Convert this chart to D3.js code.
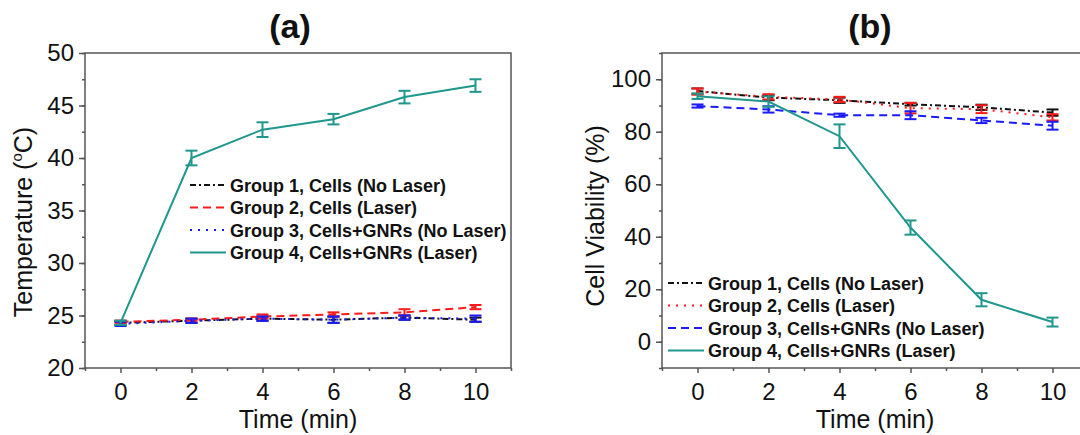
<!DOCTYPE html>
<html>
<head>
<meta charset="utf-8">
<script src="https://cdn.jsdelivr.net/npm/d3@7"></script>
<style>
  body { margin: 0; background: #fff; }
  svg { display: block; font-family: Arial, "Liberation Sans", sans-serif; }
</style>
</head>
<body>
<div id="vizContainer"></div>
<script>
// time points (min)
var times = [0, 2, 4, 6, 8, 10];
var groupNames = [
  'Group 1, Cells (No Laser)',
  'Group 2, Cells (Laser)',
  'Group 3, Cells+GNRs (No Laser)',
  'Group 4, Cells+GNRs (Laser)'
];

// panel (a) temperature (C)
var tempG1 = [24.3, 24.5, 24.7, 24.6, 24.8, 24.6];
var tempG2 = [24.4, 24.6, 24.9, 25.1, 25.3, 25.8];
var tempG3 = [24.2, 24.5, 24.7, 24.6, 24.8, 24.7];
var tempG4 = [24.3, 40.0, 42.7, 43.7, 45.8, 46.9];
var tempG1Err = [0.2, 0.2, 0.2, 0.3, 0.2, 0.2];
var tempG2Err = [0.1, 0.1, 0.2, 0.2, 0.3, 0.2];
var tempG3Err = [0.2, 0.2, 0.2, 0.3, 0.2, 0.3];
var tempG4Err = [0.2, 0.7, 0.7, 0.5, 0.6, 0.6];
var tempTicks = [20, 25, 30, 35, 40, 45, 50];

// panel (b) cell viability (%)
var viaG1 = [95.5, 93.0, 92.0, 90.5, 89.3, 87.3];
var viaG2 = [95.3, 93.3, 92.3, 89.0, 88.6, 85.5];
var viaG3 = [89.8, 88.5, 86.3, 86.3, 84.3, 82.3];
var viaG4 = [93.5, 91.5, 78.3, 43.5, 16.0, 7.5];
var viaG1Err = [1.0, 1.0, 1.0, 0.5, 1.0, 1.2];
var viaG2Err = [1.2, 1.0, 1.0, 2.0, 1.5, 1.2];
var viaG3Err = [0.6, 1.2, 0.6, 1.5, 1.0, 1.5];
var viaG4Err = [1.0, 2.0, 4.5, 2.7, 2.5, 1.7];
var viaTicks = [0, 20, 40, 60, 80, 100];

var timeTicks = [0, 2, 4, 6, 8, 10];

var teal = '#1f978c';

function initializeSvg(width, height){
  return d3.select('#vizContainer').append('svg')
    .attr('width', width)
    .attr('height', height)
    .attr('viewBox', '0 0 ' + width + ' ' + height);
}

// draws one framed panel with its series, error bars and legend
function drawPanel(svg, p){
  var x = d3.scaleLinear().domain([-1, 11]).range([p.left, p.right]);
  var y = d3.scaleLinear().domain(p.yDomain).range([368, 53]);
  var g = svg.append('g');

  // frame
  g.append('rect')
    .attr('x', p.left).attr('y', 53)
    .attr('width', p.right - p.left).attr('height', 315)
    .attr('fill', 'none').attr('stroke', '#555').attr('stroke-width', 1.5);

  // minor ticks
  var yMinor = g.append('g').attr('transform', 'translate(' + p.left + ',0)')
    .call(d3.axisLeft(y).tickValues(p.yMinor).tickSize(3).tickFormat(''));
  var xMinor = g.append('g').attr('transform', 'translate(0,368)')
    .call(d3.axisBottom(x).tickValues([-1, 1, 3, 5, 7, 9, 11]).tickSize(3).tickFormat(''));

  // major ticks
  var yAxis = g.append('g').attr('transform', 'translate(' + p.left + ',0)')
    .call(d3.axisLeft(y).tickValues(p.yTicks).tickSize(6).tickPadding(5));
  var xAxis = g.append('g').attr('transform', 'translate(0,368)')
    .call(d3.axisBottom(x).tickValues(timeTicks).tickSize(5).tickPadding(10));

  [yMinor, xMinor, yAxis, xAxis].forEach(function(a){
    a.select('.domain').remove();
    a.selectAll('line').attr('stroke', '#555').attr('stroke-width', 1.5);
    a.selectAll('text').attr('font-size', 24).attr('fill', '#111')
      .attr('font-family', 'Arial, "Liberation Sans", sans-serif');
  });

  // series
  var line = d3.line().x(function(d){ return x(d.t); }).y(function(d){ return y(d.v); });
  p.series.forEach(function(s){
    var pts = times.map(function(t, i){ return {t: t, v: s.values[i], e: s.errors[i]}; });
    var sg = g.append('g');
    sg.append('path').datum(pts)
      .attr('d', line).attr('fill', 'none')
      .attr('stroke', s.color).attr('stroke-width', 2)
      .attr('stroke-dasharray', s.dash);
    var eb = sg.selectAll('.eb').data(pts).enter().append('g');
    eb.append('line')
      .attr('x1', function(d){ return x(d.t); }).attr('x2', function(d){ return x(d.t); })
      .attr('y1', function(d){ return y(d.v - d.e); }).attr('y2', function(d){ return y(d.v + d.e); })
      .attr('stroke', s.color).attr('stroke-width', 2);
    [-1, 1].forEach(function(sign){
      eb.append('line')
        .attr('x1', function(d){ return x(d.t) - 6; }).attr('x2', function(d){ return x(d.t) + 6; })
        .attr('y1', function(d){ return y(d.v + sign * d.e); })
        .attr('y2', function(d){ return y(d.v + sign * d.e); })
        .attr('stroke', s.color).attr('stroke-width', 2);
    });
  });

  // legend
  var order = p.legendOrder;
  order.forEach(function(idx, row){
    var s = p.series[idx];
    var ly = p.legendY + row * 22.5;
    g.append('line')
      .attr('x1', p.legendX).attr('x2', p.legendX + 36)
      .attr('y1', ly).attr('y2', ly)
      .attr('stroke', s.color).attr('stroke-width', 2)
      .attr('stroke-dasharray', s.dash);
    g.append('text')
      .attr('x', p.legendX + 40).attr('y', ly + 6.5)
      .attr('font-size', 18).attr('font-weight', 'bold').attr('fill', '#111')
      .text(s.name);
  });

  // titles
  g.append('text')
    .attr('x', p.titleX).attr('y', 38)
    .attr('text-anchor', 'middle').attr('font-size', 34).attr('font-weight', 'bold')
    .attr('fill', '#111').text(p.title);
  g.append('text')
    .attr('x', (p.left + p.right) / 2).attr('y', 428)
    .attr('text-anchor', 'middle').attr('font-size', 25).attr('fill', '#111')
    .text('Time (min)');
  var yt = g.append('text')
    .attr('transform', 'translate(' + p.yTitleX + ',' + p.yTitleY + ') rotate(-90)')
    .attr('text-anchor', 'middle').attr('font-size', 25).attr('fill', '#111');
  p.yTitle.forEach(function(part){
    var ts = yt.append('tspan').text(part.text);
    if (part.sup) ts.attr('font-size', 15).attr('dy', -10);
    if (part.after) ts.attr('dy', 10);
  });
}

var svg = initializeSvg(1080, 435);

drawPanel(svg, {
  left: 85, right: 511,
  yDomain: [20, 50], yTicks: tempTicks,
  yMinor: d3.range(20, 50.1, 2.5),
  title: '(a)', titleX: 290,
  yTitleX: 32, yTitleY: 222,
  yTitle: [{text: 'Temperature ('}, {text: 'o', sup: true}, {text: 'C)', after: true}],
  legendX: 190, legendY: 185, legendOrder: [0, 1, 2, 3],
  series: [
    {name: groupNames[3], values: tempG4, errors: tempG4Err, color: teal, dash: null},
    {name: groupNames[2], values: tempG3, errors: tempG3Err, color: '#1a1aff', dash: '2,6'},
    {name: groupNames[1], values: tempG2, errors: tempG2Err, color: '#ff1a1a', dash: '8,5'},
    {name: groupNames[0], values: tempG1, errors: tempG1Err, color: '#111', dash: '6,3,2,3'}
  ].reverse()
});

drawPanel(svg, {
  left: 662, right: 1088,
  yDomain: [-10, 110], yTicks: viaTicks,
  yMinor: d3.range(-10, 110.1, 10),
  title: '(b)', titleX: 870,
  yTitleX: 604, yTitleY: 216,
  yTitle: [{text: 'Cell Viability (%)'}],
  legendX: 668, legendY: 283, legendOrder: [0, 1, 2, 3],
  series: [
    {name: groupNames[3], values: viaG4, errors: viaG4Err, color: teal, dash: null},
    {name: groupNames[2], values: viaG3, errors: viaG3Err, color: '#1a1aff', dash: '8,5'},
    {name: groupNames[1], values: viaG2, errors: viaG2Err, color: '#ff1a1a', dash: '2,6'},
    {name: groupNames[0], values: viaG1, errors: viaG1Err, color: '#111', dash: '6,3,2,3'}
  ].reverse()
});
</script>
</body>
</html>
